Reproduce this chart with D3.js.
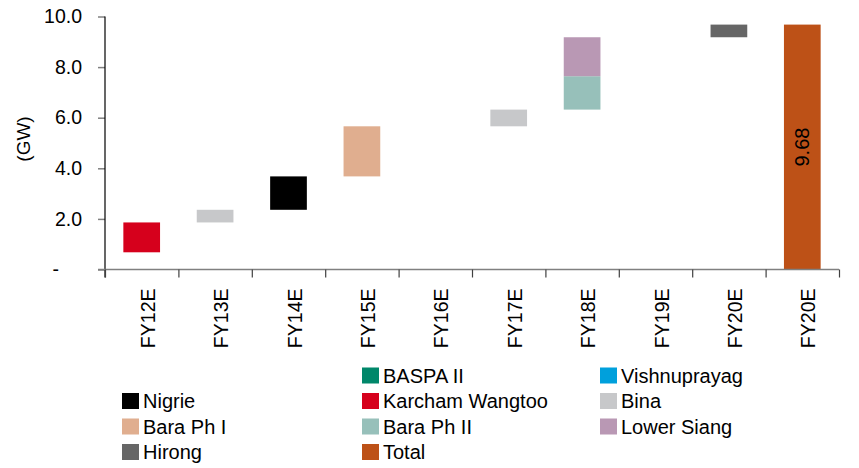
<!DOCTYPE html>
<html>
<head>
<meta charset="utf-8">
<script src="https://cdn.jsdelivr.net/npm/d3@7/dist/d3.min.js"></script>
<style>
  html, body { margin: 0; padding: 0; background: #ffffff; }
  svg { display: block; font-family: "Liberation Sans", Arial, sans-serif; }
</style>
</head>
<body>
<svg id="chart" width="859" height="468"></svg>
<script>
// Capacity build-up (GW), fiscal years
const categories = ["FY12E", "FY13E", "FY14E", "FY15E", "FY16E", "FY17E", "FY18E", "FY19E", "FY20E", "FY20E"];
const yTicks = [0, 2, 4, 6, 8, 10];

const seriesNames  = ["BASPA II", "Vishnuprayag", "Nigrie", "Karcham Wangtoo", "Bina",
                      "Bara Ph I", "Bara Ph II", "Lower Siang", "Hirong", "Total"];
const seriesColors = ["#00876A", "#00A0DC", "#000000", "#D6001C", "#C7C8CA",
                      "#E0AE8F", "#97C0BA", "#B998B4", "#666666", "#BD5117"];

// Capacity already operating before FY12E (BASPA II + Vishnuprayag)
const baseCapacity = 0.68;
// Additions: category index, project, GW added
const stepCategory = [0, 1, 2, 3, 5, 6, 6, 8];
const stepSeries   = ["Karcham Wangtoo", "Bina", "Nigrie", "Bara Ph I", "Bina", "Bara Ph II", "Lower Siang", "Hirong"];
const stepValues   = [1.18, 0.50, 1.32, 1.98, 0.66, 1.32, 1.54, 0.50];
// Final total bar
const totalCategory = 9;
const totalValue = 9.68;

const svg = d3.select("#chart");
const color = d3.scaleOrdinal().domain(seriesNames).range(seriesColors);

const x0 = 105, x1 = 839, yBottom = 269.5, yTop = 16.5;
const x = d3.scaleBand().domain(d3.range(categories.length)).range([x0, x1])
  .paddingInner(0.5).paddingOuter(0.25);
const xEdges = d3.scaleLinear().domain([0, categories.length]).range([x0, x1]);
const y = d3.scaleLinear().domain([0, 10]).range([yBottom, yTop]);

// Floating segments stacked from a running total
let running = baseCapacity;
const segments = stepValues.map((v, i) => {
  const s = { cat: stepCategory[i], series: stepSeries[i], lo: running, hi: running + v };
  running += v;
  return s;
});
segments.push({ cat: totalCategory, series: "Total", lo: 0, hi: totalValue });

svg.append("g").selectAll("rect").data(segments).join("rect")
  .attr("x", d => x(d.cat))
  .attr("width", x.bandwidth())
  .attr("y", d => y(d.hi))
  .attr("height", d => y(d.lo) - y(d.hi))
  .attr("fill", d => color(d.series));

// Value label inside the total bar
const tot = segments[segments.length - 1];
svg.append("text")
  .attr("transform", `translate(${x(tot.cat) + x.bandwidth() / 2 + 7},${(y(tot.hi) + y(tot.lo)) / 2}) rotate(-90)`)
  .attr("text-anchor", "middle")
  .attr("font-size", 20)
  .attr("fill", "#000")
  .text(d3.format(".2f")(totalValue));

// Y axis
const yAxis = svg.append("g").attr("transform", `translate(${x0},0)`)
  .call(d3.axisLeft(y).tickValues(yTicks).tickSize(7).tickPadding(16)
    .tickFormat(d => d === 0 ? "-" : d3.format(".1f")(d)));
yAxis.select(".domain").remove();
yAxis.selectAll(".tick line").attr("stroke", "#808080").attr("stroke-width", 1.5);
yAxis.selectAll(".tick text").attr("font-size", 19.5).attr("fill", "#000")
  .attr("font-family", "\"Liberation Sans\", Arial, sans-serif");
yAxis.selectAll(".tick").filter(d => d === 0).select("text").attr("x", -46);
svg.append("line").attr("x1", x0).attr("x2", x0).attr("y1", yTop).attr("y2", yBottom + 8)
  .attr("stroke", "#000").attr("stroke-width", 1.2);

// X axis: line, boundary ticks, rotated labels
const xAxis = svg.append("g").attr("transform", `translate(0,${yBottom})`)
  .call(d3.axisBottom(xEdges).ticks(categories.length).tickSize(8).tickFormat(""));
xAxis.select(".domain").attr("stroke", "#808080").attr("stroke-width", 1.5)
  .attr("d", `M${x0 - 7},0H${x1}`);
xAxis.selectAll(".tick line").attr("stroke", "#404040").attr("stroke-width", 1.2);

svg.append("g").selectAll("text").data(categories).join("text")
  .attr("transform", (d, i) => `translate(${x(i) + x.bandwidth() / 2 + 13},${yBottom + 19}) rotate(-90)`)
  .attr("text-anchor", "end")
  .attr("font-size", 19.5)
  .attr("fill", "#000")
  .text(d => d);

// Y axis title
svg.append("text")
  .attr("transform", `translate(30,139) rotate(-90)`)
  .attr("text-anchor", "middle")
  .attr("font-size", 19)
  .attr("fill", "#000")
  .text("(GW)");

// Legend: three columns, first slot left empty
const legendCols = [122, 362, 600];
const legendRow0 = 375.5, legendRowStep = 25.5;
const legend = svg.append("g").selectAll("g").data(seriesNames).join("g")
  .attr("transform", (d, i) => {
    const k = i + 1;
    return `translate(${legendCols[k % 3]},${legendRow0 + Math.floor(k / 3) * legendRowStep})`;
  });
legend.append("rect").attr("x", 0).attr("y", -8).attr("width", 17).attr("height", 16)
  .attr("fill", d => color(d));
legend.append("text").attr("x", 21).attr("y", 7)
  .attr("font-size", 20).attr("fill", "#000").text(d => d);
</script>
</body>
</html>
